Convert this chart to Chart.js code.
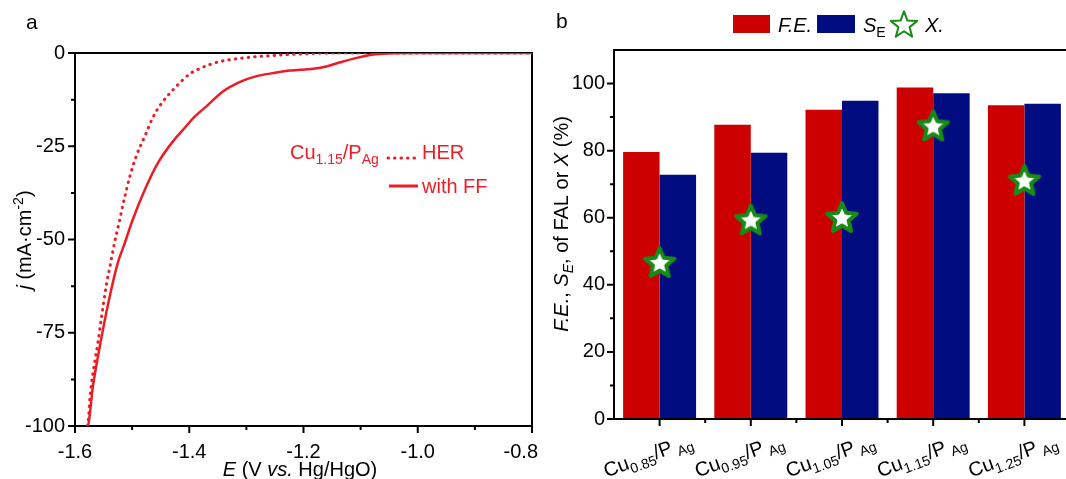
<!DOCTYPE html>
<html>
<head>
<meta charset="utf-8">
<script src="https://cdn.jsdelivr.net/npm/chart.js@4.4.1/dist/chart.umd.min.js"></script>
<style>
    html, body { margin: 0; padding: 0; background: #fff; overflow: hidden; width: 1066px; height: 479px; }
    #wrapA { position: absolute; left: 0; top: 0; width: 540px; height: 479px; }
    #wrapB { position: absolute; left: 540px; top: 0; width: 530px; height: 479px; }
</style>
</head>
<body>
<div id="wrapA"><canvas id="lsvChart" width="540" height="479"></canvas></div>
<div id="wrapB"><canvas id="barChart" width="530" height="479"></canvas></div>
<script>
// panel a: LSV curves of Cu1.15/PAg (E in V vs Hg/HgO, j in mA cm-2)
const herPotential = [-1.578, -1.577, -1.574, -1.568, -1.560, -1.554, -1.545, -1.538, -1.531, -1.523, -1.514, -1.504, -1.493, -1.478, -1.464, -1.449, -1.428, -1.414, -1.399, -1.382, -1.364, -1.344, -1.320, -1.294, -1.265, -1.224, -1.177, -1.100, -1.000, -0.900, -0.800];
const herCurrent   = [-100, -99.1, -92.6, -85.2, -77.8, -71.3, -62.1, -56.6, -51.0, -45.6, -39.3, -33.1, -27.7, -22.4, -17.4, -13.6, -9.8, -7.6, -5.6, -4.2, -3.1, -2.2, -1.6, -1.15, -0.8, -0.4, -0.1, 0, 0, 0, 0];
const ffPotential  = [-1.578, -1.576, -1.569, -1.560, -1.551, -1.540, -1.525, -1.513, -1.499, -1.478, -1.455, -1.426, -1.411, -1.390, -1.370, -1.341, -1.312, -1.282, -1.253, -1.224, -1.183, -1.160, -1.136, -1.107, -1.078, -1.050, -1.000, -0.900, -0.800];
const ffCurrent    = [-100, -99.1, -89.8, -81.5, -74.1, -65.8, -56.2, -51.0, -44.7, -36.7, -29.5, -23.2, -20.6, -17.0, -14.3, -10.3, -7.8, -6.2, -5.4, -4.7, -4.2, -3.6, -2.5, -1.3, -0.4, -0.1, 0, 0, 0];
const potentialTicks = [-1.6, -1.4, -1.2, -1.0, -0.8];
const potentialMinor = [-1.5, -1.3, -1.1, -0.9];
const currentTicks = [-100, -75, -50, -25, 0];
const currentMinor = [-87.5, -62.5, -37.5, -12.5];

// panel b: F.E., S_E and X for each catalyst
const cuRatios = ['0.85', '0.95', '1.05', '1.15', '1.25'];
const faradaicEff = [79.6, 87.7, 92.2, 98.8, 93.5];
const selectivity = [72.8, 79.4, 94.9, 97.1, 94.0];
const conversion  = [46.8, 59.5, 60.2, 87.5, 71.3];
const percentTicks = [0, 20, 40, 60, 80, 100];
const percentMinor = [10, 30, 50, 70, 90];

const FAMILY = "'Liberation Sans', Arial, sans-serif";
const LINE_RED = '#ec1c24';
const BAR_RED = '#cc0000';
const BAR_BLUE = '#000c80';
const STAR_GREEN = '#178a17';

Chart.defaults.font.family = FAMILY;
Chart.defaults.font.size = 20;
Chart.defaults.color = '#000';

// text with italics / sub / superscripts
function partFont(p) {
    const size = (p.sub || p.sup) ? 14 : 20;
    return (p.it ? 'italic ' : '') + size + 'px ' + FAMILY;
}
function richWidth(ctx, parts) {
    let w = 0;
    parts.forEach(p => { ctx.font = partFont(p); w += ctx.measureText(p.t).width; });
    return w;
}
function drawRich(ctx, parts, x, y, align) {
    let cx = x;
    if (align === 'center') cx -= richWidth(ctx, parts) / 2;
    else if (align === 'right') cx -= richWidth(ctx, parts);
    ctx.textAlign = 'left';
    ctx.textBaseline = 'alphabetic';
    parts.forEach(p => {
        ctx.font = partFont(p);
        const dy = p.sub ? 5 : (p.sup ? -8 : 0);
        ctx.fillText(p.t, cx, y + dy);
        cx += ctx.measureText(p.t).width;
    });
}

function makeStar(size, R, ratio, lw, fill) {
    const c = document.createElement('canvas');
    c.width = c.height = size;
    const g = c.getContext('2d');
    const cx = size / 2, cy = size / 2 + 0.095 * R;
    g.beginPath();
    for (let k = 0; k < 10; k++) {
        const r = k % 2 ? R * ratio : R;
        const a = -Math.PI / 2 + k * Math.PI / 5;
        g.lineTo(cx + r * Math.cos(a), cy + r * Math.sin(a));
    }
    g.closePath();
    g.fillStyle = fill;
    g.fill();
    g.lineWidth = lw;
    g.lineJoin = 'round';
    g.strokeStyle = STAR_GREEN;
    g.stroke();
    return c;
}
const starMarker = makeStar(40, 15.5, 0.45, 4, '#fff');
const starLegend = makeStar(36, 14, 0.42, 2, '#fff');

// box + outward major/minor ticks
function framePlugin(cfg) {
    const draw = function (chart) {
        const ctx = chart.ctx, a = chart.chartArea;
        const xs = chart.scales.x, ys = chart.scales.y;
        ctx.save();
        ctx.strokeStyle = '#000';
        ctx.lineWidth = 2;
        ctx.strokeRect(a.left, a.top, a.right - a.left, a.bottom - a.top);
        ctx.beginPath();
        cfg.xMajor.forEach(v => { const p = xs.getPixelForValue(v); ctx.moveTo(p, a.bottom); ctx.lineTo(p, a.bottom + 7); });
        cfg.xMinor.forEach(v => { const p = xs.getPixelForValue(v); ctx.moveTo(p, a.bottom); ctx.lineTo(p, a.bottom + 4); });
        cfg.yMajor.forEach(v => { const p = ys.getPixelForValue(v); ctx.moveTo(a.left, p); ctx.lineTo(a.left - 7, p); });
        cfg.yMinor.forEach(v => { const p = ys.getPixelForValue(v); ctx.moveTo(a.left, p); ctx.lineTo(a.left - 4, p); });
        ctx.stroke();
        ctx.restore();
    };
    return cfg.under ? { id: 'frame', beforeDatasetsDraw: draw } : { id: 'frame', afterDatasetsDraw: draw };
}

// ---------- panel a ----------
const lsvDecor = {
    id: 'lsvDecor',
    afterDraw(chart) {
        const ctx = chart.ctx;
        const xs = chart.scales.x;
        ctx.save();
        ctx.fillStyle = '#000';
        ctx.font = '21px ' + FAMILY;
        ctx.fillText('a', 26, 29);

        // x tick labels (last one kept inside the panel)
        ctx.font = '20px ' + FAMILY;
        potentialTicks.forEach(v => {
            const txt = v.toFixed(1);
            const w = ctx.measureText(txt).width;
            let left = xs.getPixelForValue(v) - w / 2;
            if (left + w > 538) left = 538 - w;
            ctx.fillText(txt, left, 458);
        });

        // axis titles
        drawRich(ctx, [{ t: 'E', it: 1 }, { t: ' (V ' }, { t: 'vs.', it: 1 }, { t: ' Hg/HgO)' }], 300, 476, 'center');
        ctx.translate(24, 240);
        ctx.rotate(-Math.PI / 2);
        drawRich(ctx, [{ t: 'j', it: 1 }, { t: ' (mA·cm' }, { t: '-2', sup: 1 }, { t: ')' }], 0, 7, 'center');
        ctx.restore();

        // legend
        ctx.save();
        ctx.fillStyle = LINE_RED;
        drawRich(ctx, [{ t: 'Cu' }, { t: '1.15', sub: 1 }, { t: '/P' }, { t: 'Ag', sub: 1 }], 290, 159, 'left');
        drawRich(ctx, [{ t: 'HER' }], 422, 159, 'left');
        drawRich(ctx, [{ t: 'with FF' }], 422, 193, 'left');
        ctx.strokeStyle = LINE_RED;
        ctx.lineWidth = 3;
        ctx.lineCap = 'round';
        ctx.setLineDash([0.5, 6]);
        ctx.beginPath(); ctx.moveTo(388, 158); ctx.lineTo(417, 158); ctx.stroke();
        ctx.setLineDash([]);
        ctx.lineCap = 'butt';
        ctx.beginPath(); ctx.moveTo(389, 186); ctx.lineTo(418, 186); ctx.stroke();
        ctx.restore();
    }
};

new Chart(document.getElementById('lsvChart'), {
    type: 'line',
    data: {
        datasets: [
            {
                label: 'HER',
                data: herPotential.map((e, i) => ({ x: e, y: herCurrent[i] })),
                borderColor: LINE_RED,
                borderWidth: 3,
                borderDash: [0.5, 6],
                borderCapStyle: 'round',
                pointRadius: 0,
                cubicInterpolationMode: 'monotone',
                fill: false
            },
            {
                label: 'with FF',
                data: ffPotential.map((e, i) => ({ x: e, y: ffCurrent[i] })),
                borderColor: LINE_RED,
                borderWidth: 2.5,
                pointRadius: 0,
                cubicInterpolationMode: 'monotone',
                fill: false
            }
        ]
    },
    options: {
        responsive: false,
        animation: false,
        layout: { autoPadding: false, padding: { top: 53, right: 8, left: 0, bottom: 0 } },
        plugins: { legend: { display: false }, tooltip: { enabled: false } },
        scales: {
            x: {
                type: 'linear',
                min: -1.6,
                max: -0.8,
                afterBuildTicks: s => { s.ticks = potentialTicks.map(v => ({ value: v })); },
                ticks: { display: false },
                grid: { display: false, drawTicks: false },
                border: { display: false },
                afterFit: s => { s.height = 53; s.paddingLeft = 0; s.paddingRight = 0; }
            },
            y: {
                type: 'linear',
                min: -100,
                max: 0,
                afterBuildTicks: s => { s.ticks = currentTicks.map(v => ({ value: v })); },
                ticks: { callback: v => String(v), padding: 10, font: { size: 20 } },
                grid: { display: false, drawTicks: false },
                border: { display: false },
                afterFit: s => { s.width = 75; s.paddingTop = 0; s.paddingBottom = 0; }
            }
        }
    },
    plugins: [framePlugin({ xMajor: potentialTicks, xMinor: potentialMinor, yMajor: currentTicks, yMinor: currentMinor, under: true }), lsvDecor]
});

// ---------- panel b ----------
const barDecor = {
    id: 'barDecor',
    afterDraw(chart) {
        const ctx = chart.ctx;
        const xs = chart.scales.x;
        ctx.save();
        ctx.fillStyle = '#000';
        ctx.font = '21px ' + FAMILY;
        ctx.fillText('b', 16, 28);

        // category labels, rotated
        cuRatios.forEach((r, i) => {
            const px = xs.getPixelForValue(i);
            ctx.save();
            ctx.translate(px - 12, 455);
            ctx.rotate(-20 * Math.PI / 180);
            drawRich(ctx, [{ t: 'Cu' }, { t: r, sub: 1 }, { t: '/P' }, { t: ' Ag', sub: 1 }], 0, 7, 'center');
            ctx.restore();
        });

        // y title
        ctx.save();
        ctx.translate(21, 224);
        ctx.rotate(-Math.PI / 2);
        drawRich(ctx, [{ t: 'F.E.', it: 1 }, { t: ', ' }, { t: 'S', it: 1 }, { t: 'E', sub: 1, it: 1 }, { t: ', of FAL or ' }, { t: 'X', it: 1 }, { t: ' (%)' }], 0, 7, 'center');
        ctx.restore();

        // legend
        ctx.fillStyle = BAR_RED;
        ctx.fillRect(193, 15, 37, 18);
        ctx.fillStyle = BAR_BLUE;
        ctx.fillRect(277, 15, 38, 18);
        ctx.fillStyle = '#000';
        drawRich(ctx, [{ t: 'F.E.', it: 1 }], 238, 32, 'left');
        drawRich(ctx, [{ t: 'S', it: 1 }, { t: 'E', sub: 1 }], 323, 32, 'left');
        ctx.drawImage(starLegend, 364 - 18, 24 - 18);
        drawRich(ctx, [{ t: 'X.', it: 1 }], 385, 32, 'left');
        ctx.restore();
    }
};

new Chart(document.getElementById('barChart'), {
    type: 'bar',
    data: {
        labels: cuRatios.map(r => 'Cu' + r + '/PAg'),
        datasets: [
            {
                type: 'line',
                label: 'X',
                data: conversion,
                showLine: false,
                pointStyle: starMarker,
                pointRadius: 15,
                order: 1
            },
            {
                label: 'F.E.',
                data: faradaicEff,
                backgroundColor: BAR_RED,
                categoryPercentage: 0.8,
                barPercentage: 1.0,
                order: 2
            },
            {
                label: 'S_E',
                data: selectivity,
                backgroundColor: BAR_BLUE,
                categoryPercentage: 0.8,
                barPercentage: 1.0,
                order: 2
            }
        ]
    },
    options: {
        responsive: false,
        animation: false,
        layout: { autoPadding: false, padding: { top: 50, right: 0, left: 0, bottom: 0 } },
        plugins: { legend: { display: false }, tooltip: { enabled: false } },
        scales: {
            x: {
                type: 'category',
                offset: true,
                ticks: { display: false },
                grid: { display: false, drawTicks: false },
                border: { display: false },
                afterFit: s => { s.height = 60; s.paddingLeft = 0; s.paddingRight = 0; }
            },
            y: {
                type: 'linear',
                min: 0,
                max: 110,
                afterBuildTicks: s => { s.ticks = percentTicks.map(v => ({ value: v })); },
                ticks: { padding: 9, font: { size: 20 } },
                grid: { display: false, drawTicks: false },
                border: { display: false },
                afterFit: s => { s.width = 74; s.paddingTop = 0; s.paddingBottom = 0; }
            }
        }
    },
    plugins: [framePlugin({ xMajor: [0, 1, 2, 3, 4], xMinor: [0.5, 1.5, 2.5, 3.5], yMajor: percentTicks, yMinor: percentMinor, under: false }), barDecor]
});
</script>
</body>
</html>
